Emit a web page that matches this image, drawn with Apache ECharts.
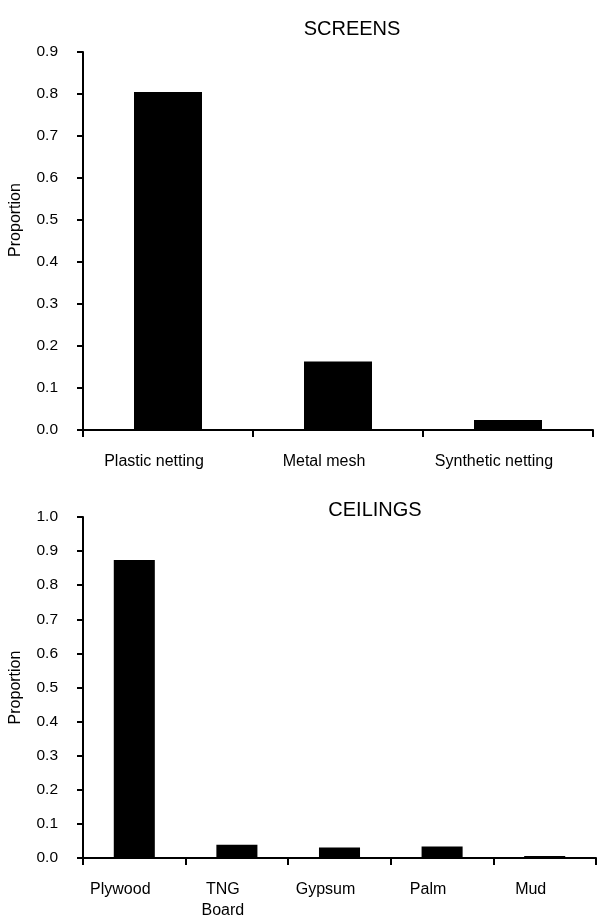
<!DOCTYPE html>
<html>
<head>
<meta charset="utf-8">
<script src="https://cdn.jsdelivr.net/npm/echarts@6/dist/echarts.min.js"></script>
<style>
html,body{margin:0;padding:0;background:#fff;}
#main{width:597px;height:921px;}
</style>
</head>
<body>
<div id="main"></div>
<script>
const screenCategories = ['Plastic netting', 'Metal mesh', 'Synthetic netting'];
const screenValues = [0.805, 0.163, 0.024];
const ceilingCategories = ['Plywood', 'TNG\nBoard', 'Gypsum', 'Palm', 'Mud'];
const ceilingValues = [0.874, 0.039, 0.031, 0.034, 0.006];
const titles = ['SCREENS', 'CEILINGS'];
const yAxisName = 'Proportion';

const FONT = 'Liberation Sans, Arial, sans-serif';
const chart = echarts.init(document.getElementById('main'), null, {renderer: 'canvas'});

function xAxis(idx, cats) {
  return {
    type: 'category', gridIndex: idx, data: cats,
    axisLine: {lineStyle: {color: '#000', width: 2}},
    axisTick: {show: true, length: 7, lineStyle: {color: '#000', width: 2}},
    axisLabel: {color: '#000', fontFamily: FONT, fontSize: 16, margin: 21, lineHeight: 21,
      interval: 0, padding: [0, 28, 0, 0]},
    splitLine: {show: false}
  };
}
function yAxis(idx, max, pad) {
  return {
    type: 'value', gridIndex: idx, min: 0, max: max, interval: 0.1,
    name: yAxisName, nameLocation: 'middle', nameGap: 59,
    nameTextStyle: {color: '#000', fontFamily: FONT, fontSize: 16, padding: pad},
    axisLine: {show: true, lineStyle: {color: '#000', width: 2}},
    axisTick: {show: true, length: 6, lineStyle: {color: '#000', width: 2}},
    axisLabel: {color: '#000', fontFamily: FONT, fontSize: 15.5, margin: 25,
      formatter: v => v.toFixed(1)},
    splitLine: {show: false}
  };
}

chart.setOption({
  animation: false,
  backgroundColor: '#fff',
  title: [
    {text: titles[0], left: 347, top: 24, textAlign: 'center', textVerticalAlign: 'middle',
      textStyle: {color: '#000', fontFamily: FONT, fontSize: 20, fontWeight: 'normal'}},
    {text: titles[1], left: 370, top: 505, textAlign: 'center', textVerticalAlign: 'middle',
      textStyle: {color: '#000', fontFamily: FONT, fontSize: 20, fontWeight: 'normal'}}
  ],
  grid: [
    {left: 83, right: 4, top: 52, height: 378},
    {left: 83, right: 1, top: 517, height: 343}
  ],
  xAxis: [xAxis(0, screenCategories), xAxis(1, ceilingCategories)],
  yAxis: [yAxis(0, 0.9, [0, 0, 0, 42]), yAxis(1, 1.0, [0, 0, 0, 0])],
  series: [
    {type: 'bar', xAxisIndex: 0, yAxisIndex: 0, data: screenValues,
      barCategoryGap: '60%', itemStyle: {color: '#000'}},
    {type: 'bar', xAxisIndex: 1, yAxisIndex: 1, data: ceilingValues,
      barCategoryGap: '60%', itemStyle: {color: '#000'}}
  ]
});
</script>
</body>
</html>
